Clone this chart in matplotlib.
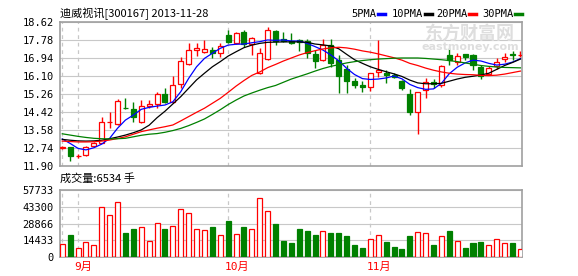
import matplotlib.pyplot as plt
import numpy as np

# daily candles, 2013-08-29 .. 2013-11-28
opens = [12.76, 12.77, 12.36, 12.41, 12.85, 12.98, 13.95, 13.86, 14.61, 14.54,
         13.93, 14.70, 14.77, 15.25, 14.87, 15.70, 16.63, 17.30, 17.19, 17.30,
         17.15, 18.00, 17.61, 18.13, 17.57, 16.25, 16.87, 18.20, 17.80, 17.74,
         17.77, 17.72, 17.10, 16.84, 17.53, 16.84, 16.42, 15.86, 15.67, 15.59,
         16.26, 16.25, 16.15, 15.86, 15.25, 14.40, 15.44, 15.80, 15.67, 17.07,
         16.76, 17.10, 17.07, 16.53, 16.17, 16.57, 16.87, 17.10, 17.07]
closes = [12.78, 12.37, 12.38, 12.80, 12.97, 13.96, 13.97, 14.93, 14.58, 14.17,
          14.69, 14.78, 15.24, 14.90, 15.67, 16.79, 17.30, 17.38, 17.33, 17.15,
          17.50, 17.69, 18.08, 17.57, 17.88, 17.15, 18.23, 17.72, 17.70, 17.62,
          17.66, 17.15, 16.80, 17.53, 16.68, 16.11, 15.87, 15.67, 15.60, 16.22,
          16.37, 16.14, 16.06, 15.52, 14.43, 15.33, 15.83, 15.71, 16.56, 16.84,
          17.04, 16.96, 16.60, 16.11, 16.45, 16.76, 16.99, 17.07, 17.09]
highs = [12.85, 12.80, 12.46, 12.84, 13.00, 14.17, 14.40, 15.02, 15.05, 14.87,
         14.98, 14.98, 15.33, 15.55, 16.09, 16.99, 17.64, 17.61, 17.77, 17.45,
         17.62, 18.23, 18.12, 18.22, 17.92, 17.38, 18.39, 18.22, 18.13, 18.08,
         17.80, 17.80, 17.28, 17.81, 17.80, 17.07, 16.62, 15.98, 15.86, 16.24,
         17.77, 16.38, 16.23, 15.90, 15.48, 15.35, 15.98, 15.95, 16.62, 17.38,
         17.16, 17.12, 17.10, 16.62, 16.55, 16.91, 17.17, 17.25, 17.25]
lows = [12.70, 12.15, 12.28, 12.35, 12.82, 12.95, 13.65, 13.80, 14.56, 13.96,
        13.88, 14.62, 14.62, 14.85, 14.83, 15.55, 16.60, 17.04, 17.17, 16.91,
        16.98, 17.62, 17.56, 17.45, 17.07, 16.20, 16.83, 17.53, 17.66, 17.60,
        17.25, 16.94, 16.45, 16.80, 16.52, 15.31, 15.28, 15.55, 15.33, 15.39,
        16.06, 15.75, 15.98, 15.45, 14.27, 13.38, 15.05, 15.55, 15.60, 16.60,
        16.62, 16.84, 16.37, 15.95, 16.12, 16.42, 16.76, 16.85, 16.97]
volumes = [10944, 18957, 7497, 12667, 10082, 42826, 35932, 47135, 20681, 24128,
           25593, 13787, 29039, 24128, 26454, 41103, 37656, 23869, 23266, 25851,
           18699, 31021, 19560, 25851, 24128, 50582, 39638, 28436, 13787, 12064,
           24128, 22404, 18957, 22404, 20681, 20681, 18096, 10340, 7755, 15511,
           18699, 12925, 8617, 6894, 18096, 21543, 20422, 10340, 18096, 22404,
           13787, 7755, 12064, 12925, 10340, 15511, 12064, 12064, 6534]

# moving average lines as drawn on the chart
ma5 = [13.16, 12.95, 12.72, 12.65, 12.75, 12.92, 13.19, 13.66, 14.04, 14.27,
       14.54, 14.63, 14.69, 14.74, 14.89, 15.36, 15.98, 16.52, 16.91, 17.15,
       17.38, 17.53, 17.57, 17.58, 17.64, 17.69, 17.77, 17.75, 17.77, 17.72,
       17.72, 17.61, 17.46, 17.30, 17.07, 16.80, 16.45, 16.16, 15.97, 15.93,
       15.95, 16.00, 16.09, 15.96, 15.70, 15.55, 15.47, 15.49, 15.75, 16.20,
       16.50, 16.70, 16.83, 16.79, 16.68, 16.60, 16.64, 16.74, 16.90]
ma10 = [13.14, 13.10, 13.07, 13.06, 13.07, 13.10, 13.17, 13.25, 13.34, 13.45,
        13.58, 13.80, 14.15, 14.45, 14.79, 15.13, 15.52, 15.91, 16.22, 16.52,
        16.76, 17.02, 17.22, 17.41, 17.53, 17.61, 17.66, 17.67, 17.68, 17.68,
        17.68, 17.66, 17.58, 17.54, 17.49, 17.36, 17.10, 16.85, 16.68, 16.52,
        16.40, 16.29, 16.19, 16.07, 15.90, 15.77, 15.73, 15.73, 15.75, 15.85,
        15.95, 16.03, 16.08, 16.14, 16.22, 16.40, 16.58, 16.72, 16.88]
ma20 = [13.06, 13.04, 13.02, 13.02, 13.03, 13.06, 13.11, 13.18, 13.26, 13.38,
        13.50, 13.58, 13.66, 13.73, 13.81, 14.00, 14.20, 14.40, 14.59, 14.82,
        15.05, 15.33, 15.62, 15.88, 16.12, 16.28, 16.48, 16.63, 16.79, 16.93,
        17.07, 17.18, 17.27, 17.35, 17.40, 17.43, 17.40, 17.34, 17.26, 17.20,
        17.12, 17.03, 16.94, 16.83, 16.68, 16.58, 16.46, 16.36, 16.28, 16.22,
        16.18, 16.16, 16.15, 16.12, 16.11, 16.13, 16.18, 16.25, 16.32]
ma30 = [13.40, 13.34, 13.28, 13.23, 13.19, 13.17, 13.16, 13.17, 13.19, 13.26,
        13.33, 13.38, 13.41, 13.47, 13.55, 13.65, 13.78, 13.93, 14.09, 14.30,
        14.52, 14.76, 14.97, 15.16, 15.30, 15.43, 15.55, 15.65, 15.80, 15.95,
        16.07, 16.19, 16.32, 16.44, 16.54, 16.62, 16.70, 16.76, 16.81, 16.85,
        16.88, 16.90, 16.92, 16.93, 16.93, 16.93, 16.91, 16.88, 16.85, 16.81,
        16.76, 16.70, 16.64, 16.58, 16.54, 16.51, 16.49, 16.48, 16.47]

month_pos = [2, 21, 39]
month_labels = ['9月', '10月', '11月']
price_ticks = [11.90, 12.74, 13.58, 14.42, 15.26, 16.10, 16.94, 17.78, 18.62]
vol_ticks = [0, 14433, 28866, 43300, 57733]

RED = '#ff0000'
GREEN = '#008000'
GRID = '#c8c8c8'
FRAME = '#a0a0a0'
W, H = 578, 276
mono = ['DejaVu Sans Mono', 'Noto Sans CJK SC']
cjk = ['Noto Sans CJK SC', 'DejaVu Sans Mono']


def px(x, y):
    return x / W, 1 - y / H


fig = plt.figure(figsize=(W / 100, H / 100), dpi=100)
ax = fig.add_axes([59.5 / W, 1 - 166 / H, 462.5 / W, 144.3 / H])
axv = fig.add_axes([59.5 / W, 1 - 257 / H, 462.5 / W, 67 / H])

# watermark behind the price panel
fig.text(*px(470, 33), '东方财富网', family=cjk, fontsize=13, weight='bold',
         color='#dedede', ha='center', va='center', zorder=0)
fig.text(*px(470, 47), 'eastmoney.com', fontsize=8, weight='bold',
         color='#dedede', ha='center', va='center', zorder=0)
ax.patch.set_alpha(0)

x = np.arange(len(closes))
o = np.array(opens)
c = np.array(closes)
up = c >= o
cols = np.where(up, RED, GREEN)
bw = 0.64

ax.vlines(x, lows, highs, colors=cols, linewidth=1, zorder=2)
body_lo = np.minimum(o, c)
body_h = np.maximum(np.abs(c - o), 0.005)
ax.bar(x, body_h, bw, bottom=body_lo, color=np.where(up, 'white', GREEN),
       edgecolor=cols, linewidth=0.9, zorder=3)

ax.plot(x, ma5, color='#0000ff', lw=0.9, zorder=4)
ax.plot(x, ma10, color='black', lw=0.9, zorder=4)
ax.plot(x, ma20, color=RED, lw=0.9, zorder=4)
ax.plot(x, ma30, color=GREEN, lw=0.9, zorder=4)

axv.bar(x, volumes, bw, color=np.where(up, 'white', GREEN),
        edgecolor=cols, linewidth=0.9, zorder=3)

for a, ticks, fmt in [(ax, price_ticks, '%.2f'), (axv, vol_ticks, '%d')]:
    a.set_xlim(-0.35, len(closes) - 0.8)
    a.set_ylim(ticks[0], ticks[-1])
    a.set_yticks(ticks)
    a.set_yticklabels([fmt % t for t in ticks], family=mono, fontsize=7.5)
    a.tick_params(length=0, pad=4)
    a.set_xticks([])
    a.grid(axis='y', color=GRID, lw=0.8)
    a.set_axisbelow(True)
    for s in a.spines.values():
        s.set_color(FRAME)
        s.set_linewidth(1.2)
    for p in [0] + month_pos:
        a.axvline(p, color=GRID, lw=0.9, ls=(0, (3, 3)), zorder=1)

for p, lab in zip(month_pos, month_labels):
    axv.text(p - 0.45, -0.08, lab, transform=axv.get_xaxis_transform(),
             ha='left', va='top', color=RED, fontsize=8, family=mono)

fig.text(*px(60, 14), '迪威视讯[300167] 2013-11-28', family=cjk,
         fontsize=8, va='center', ha='left')
fig.text(*px(60, 178), '成交量:6534 手', family=cjk,
         fontsize=8, va='center', ha='left')

legend = [('5PMA', '#0000ff', 351), ('10PMA', 'black', 392),
          ('20PMA', RED, 436), ('30PMA', GREEN, 482)]
for name, col, x0 in legend:
    fig.text(*px(x0, 14), name, family=mono, fontsize=7.5, va='center')
    x1 = x0 + len(name) * 6.2 + 2
    fig.add_artist(plt.Line2D([x1 / W, (x1 + 7) / W], [1 - 14 / H, 1 - 14 / H],
                              color=col, lw=2.5))

fig.savefig('out.png', dpi=100)
